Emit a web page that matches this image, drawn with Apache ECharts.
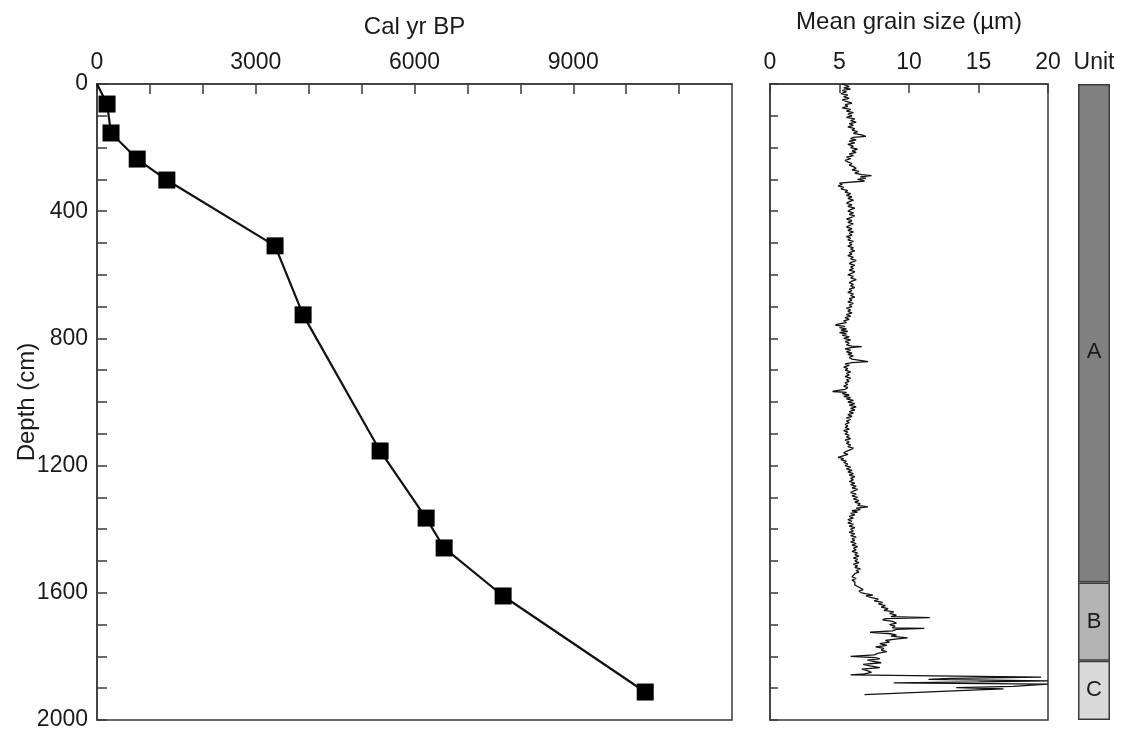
<!DOCTYPE html>
<html>
<head>
<meta charset="utf-8">
<title>Age-depth model and grain size</title>
<script src="https://cdn.jsdelivr.net/npm/echarts@6/dist/echarts.min.js"></script>
<style>
  html, body { margin: 0; padding: 0; background: #ffffff; }
  #chart { width: 1127px; height: 733px; }
</style>
</head>
<body>
<div id="chart"></div>
<script>
// Radiocarbon-dated levels: calibrated age (cal yr BP) and depth (cm)
const datedAges   = [190, 265, 760, 1320, 3365, 3895, 5350, 6220, 6560, 7675, 10360];
const datedDepths = [63, 154, 236, 302, 509, 726, 1154, 1365, 1459, 1610, 1912];

// Depth labels (cm) and age labels (cal yr BP)
const depthLabels = [0, 400, 800, 1200, 1600, 2000];
const ageLabels = [0, 3000, 6000, 9000];
const grainLabels = [0, 5, 10, 15, 20];

// Mean grain size profile: [depth (cm), mean grain size (µm)]
const grainProfile = [
  [0,5.2],[4,5.1],[8,5.7],[12,5.3],[16,5.8],[20,5.2],[25,5.5],[30,5.1],[35,5.6],[40,5.3],
  [45,5.7],[50,5.2],[55,5.5],[60,5.9],[65,5.4],[70,5.6],[75,5.2],[80,5.8],[85,5.5],[90,6.0],
  [95,5.6],[100,5.9],[105,5.5],[110,6.1],[115,5.8],[120,6.2],[125,5.7],[130,6.0],[135,5.6],[140,6.1],
  [145,5.9],[150,6.3],[155,6.0],[160,6.6],[165,6.9],[168,6.0],[172,5.8],[176,6.2],[180,5.7],[185,6.1],
  [190,5.6],[195,6.0],[200,5.8],[205,6.3],[210,5.9],[215,6.2],[220,5.7],[225,6.0],[230,5.5],[235,5.8],
  [240,5.4],[245,5.6],[250,5.9],[255,5.7],[260,6.0],[265,6.2],[270,5.9],[275,6.4],[280,6.1],[285,6.6],
  [288,7.3],[292,6.5],[296,6.9],[300,6.3],[305,6.8],[310,6.8],[312,5.0],[316,5.2],[320,4.9],[325,5.3],
  [330,5.1],[335,5.6],[340,5.4],[345,5.8],[350,5.5],[355,5.9],[360,5.6],[365,6.0],[370,5.7],[375,5.5],
  [380,5.9],[385,5.6],[390,6.1],[395,5.8],[400,5.6],[405,6.0],[410,5.7],[415,6.1],[420,5.8],[425,5.5],
  [430,5.9],[435,5.6],[440,6.0],[445,5.7],[450,5.5],[455,5.9],[460,5.6],[465,6.0],[470,5.7],[475,5.9],
  [480,5.5],[485,5.8],[490,5.6],[495,6.0],[500,5.7],[505,5.9],[510,5.6],[515,6.0],[520,5.8],[525,6.1],
  [530,5.7],[535,5.9],[540,5.6],[545,6.0],[550,5.8],[555,6.2],[560,5.9],[565,5.7],[570,6.1],[575,5.8],
  [580,6.0],[585,5.7],[590,6.1],[595,5.9],[600,5.6],[605,6.0],[610,5.8],[615,6.2],[620,5.9],[625,5.7],
  [630,6.0],[635,5.8],[640,6.1],[645,5.7],[650,5.9],[655,5.6],[660,6.0],[665,5.8],[670,6.1],[675,5.7],
  [680,5.9],[685,5.6],[690,6.0],[695,5.7],[700,5.9],[705,5.5],[710,5.8],[715,5.6],[720,5.9],[725,5.5],
  [730,5.8],[735,5.4],[740,5.7],[745,5.3],[750,5.5],[755,4.9],[758,4.7],[762,5.4],[766,5.0],[770,5.5],
  [774,5.1],[778,5.6],[782,5.0],[786,5.5],[790,5.2],[795,5.7],[800,5.3],[805,5.8],[810,5.4],[815,5.7],
  [820,5.5],[824,5.9],[826,6.6],[829,5.8],[833,5.4],[837,5.8],[842,5.5],[846,5.9],[850,5.6],[855,6.0],
  [860,5.7],[865,5.9],[869,5.8],[873,7.05],[876,5.9],[880,5.4],[885,5.7],[890,5.3],[895,5.6],[900,5.4],
  [905,5.8],[910,5.5],[915,5.7],[920,5.4],[925,5.8],[930,5.5],[935,5.7],[940,5.4],[945,5.6],[950,5.3],
  [955,5.6],[960,5.4],[964,4.8],[967,4.5],[970,5.5],[974,5.2],[978,5.7],[982,5.3],[986,5.8],[990,5.5],
  [995,6.0],[1000,5.6],[1005,6.1],[1010,5.7],[1015,6.2],[1020,5.8],[1025,6.1],[1030,5.7],[1035,6.0],[1040,5.6],
  [1045,5.9],[1050,5.5],[1055,5.8],[1060,5.5],[1065,5.7],[1070,5.4],[1075,5.6],[1080,5.4],[1085,5.7],[1090,5.3],
  [1095,5.6],[1100,5.4],[1105,5.7],[1110,5.5],[1115,5.8],[1120,5.4],[1125,5.7],[1130,5.5],[1135,5.8],[1140,5.6],
  [1145,6.0],[1150,5.8],[1155,5.5],[1160,5.3],[1165,5.6],[1170,5.2],[1174,4.9],[1178,5.3],[1182,5.1],[1186,5.5],
  [1190,5.3],[1195,5.6],[1200,5.4],[1205,5.8],[1210,5.5],[1215,5.9],[1220,5.6],[1225,6.0],[1230,5.7],[1235,6.1],
  [1240,5.8],[1245,6.0],[1250,5.7],[1255,6.1],[1260,5.8],[1265,6.2],[1270,5.9],[1275,6.3],[1280,6.0],[1285,5.8],
  [1290,6.2],[1295,5.9],[1300,6.3],[1305,6.0],[1310,6.4],[1315,6.1],[1320,6.5],[1325,6.3],[1330,7.05],[1334,6.2],
  [1338,6.5],[1342,5.9],[1346,6.3],[1350,5.8],[1355,6.1],[1360,5.7],[1365,6.0],[1370,5.6],[1375,5.9],[1380,5.6],
  [1385,6.0],[1390,5.7],[1395,6.1],[1400,5.8],[1405,6.0],[1410,5.7],[1415,6.1],[1420,5.8],[1425,6.2],[1430,5.9],
  [1435,6.1],[1440,5.8],[1445,6.2],[1450,5.9],[1455,6.3],[1460,6.0],[1465,6.2],[1470,5.9],[1475,6.3],[1480,6.1],
  [1485,6.4],[1490,6.0],[1495,6.3],[1500,6.1],[1505,6.4],[1510,6.0],[1515,6.3],[1520,6.1],[1525,6.5],[1530,6.2],
  [1535,6.4],[1540,6.1],[1545,6.0],[1550,5.9],[1555,6.2],[1560,5.9],[1565,6.1],[1570,6.0],[1575,6.1],[1580,6.3],
  [1585,6.5],[1590,6.7],[1595,6.4],[1600,6.6],[1604,6.5],[1607,7.4],[1610,6.9],[1615,7.3],[1620,7.8],[1625,7.5],
  [1630,8.1],[1635,7.8],[1640,8.3],[1645,8.0],[1650,8.5],[1655,8.2],[1660,8.9],[1665,8.6],[1670,9.1],[1675,8.7],
  [1678,11.5],[1681,8.3],[1685,8.1],[1690,8.8],[1695,9.1],[1700,8.6],[1705,9.0],[1710,8.8],[1712,11.1],[1715,9.1],
  [1720,8.8],[1724,7.2],[1728,8.5],[1732,9.1],[1736,8.7],[1742,9.9],[1746,9.0],[1750,8.3],[1755,8.6],[1760,7.9],
  [1765,8.4],[1770,7.6],[1775,8.2],[1780,8.0],[1785,8.4],[1790,7.8],[1795,7.5],[1800,5.8],[1804,7.6],[1808,7.9],
  [1812,7.0],[1816,7.5],[1820,8.0],[1825,6.7],[1830,7.2],[1835,7.9],[1840,6.6],[1845,7.0],[1850,7.3],[1855,6.8],
  [1858,5.8],[1865,19.5],[1869,13.0],[1872,11.4],[1877,20],[1880,15.0],[1883,8.9],[1887,20],[1890,20],[1894,17.5],
  [1898,13.4],[1902,16.8],[1906,14.5],[1920,6.8]
];

// Lithological units: name, top depth, base depth (cm)
const unitNames = ['A', 'B', 'C'];
const unitTops  = [0, 1568, 1814];
const unitBases = [1568, 1814, 2000];
const unitColors = ['#808080', '#b4b4b4', '#dadada'];

const FONT = '"Liberation Sans", Arial, sans-serif';
const AXIS_COLOR = '#3a3a3a';
const TXT = '#1a1a1a';
const TICK_FONT = 23;

const chart = echarts.init(document.getElementById('chart'), null, { renderer: 'canvas' });

const depthAxisBase = {
  type: 'value', inverse: true, min: 0, max: 2000, interval: 100,
  splitLine: { show: false },
  axisLine: { show: true, lineStyle: { color: AXIS_COLOR, width: 1.5 } },
  axisTick: { show: true, inside: true, length: 10, lineStyle: { color: AXIS_COLOR, width: 1.5 } }
};

const ageLine = [[0, 0]].concat(datedAges.map((a, i) => [a, datedDepths[i]]));

const gridBase = { outerBoundsMode: 'none', containLabel: false };

const option = {
  animation: false,
  backgroundColor: '#ffffff',
  textStyle: { fontFamily: FONT },
  grid: [
    Object.assign({ left: 97, top: 84, width: 635, height: 636, show: true, borderColor: AXIS_COLOR, borderWidth: 1.5 }, gridBase),
    Object.assign({ left: 770, top: 84, width: 278, height: 636, show: true, borderColor: AXIS_COLOR, borderWidth: 1.5 }, gridBase),
    Object.assign({ left: 1078, top: 84, width: 32, height: 636 }, gridBase)
  ],
  xAxis: [
    {
      gridIndex: 0, type: 'value', position: 'top', min: 0, max: 12000, interval: 1000,
      name: 'Cal yr BP', nameLocation: 'middle', nameGap: 45, nameMoveOverlap: false,
      nameTextStyle: { fontFamily: FONT, fontSize: 24, color: TXT },
      splitLine: { show: false },
      axisLine: { show: true, lineStyle: { color: AXIS_COLOR, width: 1.5 } },
      axisTick: { show: true, inside: true, length: 10, lineStyle: { color: AXIS_COLOR, width: 1.5 } },
      axisLabel: {
        show: true, margin: 10, fontFamily: FONT, fontSize: TICK_FONT, color: TXT,
        showMaxLabel: false,
        formatter: v => ageLabels.indexOf(v) >= 0 ? String(v) : ''
      }
    },
    {
      gridIndex: 1, type: 'value', position: 'top', min: 0, max: 20, interval: 5,
      name: 'Mean grain size (µm)', nameLocation: 'middle', nameGap: 50, nameMoveOverlap: false,
      nameTextStyle: { fontFamily: FONT, fontSize: 24, color: TXT },
      splitLine: { show: false },
      axisLine: { show: true, lineStyle: { color: AXIS_COLOR, width: 1.5 } },
      axisTick: { show: true, inside: true, length: 9, lineStyle: { color: AXIS_COLOR, width: 1.5 } },
      axisLabel: {
        show: true, margin: 10, fontFamily: FONT, fontSize: TICK_FONT, color: TXT,
        formatter: v => grainLabels.indexOf(v) >= 0 ? String(v) : ''
      }
    },
    {
      gridIndex: 2, type: 'category', position: 'top', data: ['Unit'],
      axisLine: { show: false }, axisTick: { show: false },
      axisLabel: { show: true, margin: 10, fontFamily: FONT, fontSize: TICK_FONT, color: TXT }
    }
  ],
  yAxis: [
    Object.assign({}, depthAxisBase, {
      gridIndex: 0,
      name: 'Depth (cm)', nameLocation: 'middle', nameGap: 58, nameMoveOverlap: false,
      nameTextStyle: { fontFamily: FONT, fontSize: 24, color: TXT },
      axisLabel: {
        show: true, margin: 9, fontFamily: FONT, fontSize: TICK_FONT, color: TXT,
        formatter: v => depthLabels.indexOf(v) >= 0 ? String(v) : ''
      }
    }),
    Object.assign({}, depthAxisBase, {
      gridIndex: 1,
      axisTick: { show: true, inside: true, length: 8, lineStyle: { color: AXIS_COLOR, width: 1.5 } },
      axisLabel: { show: false }
    }),
    { gridIndex: 2, type: 'value', inverse: true, min: 0, max: 2000, show: false }
  ],
  series: [
    {
      name: 'Age model', type: 'line', xAxisIndex: 0, yAxisIndex: 0,
      data: ageLine,
      showSymbol: false, symbol: 'none',
      lineStyle: { color: '#111', width: 2.2 },
      z: 2
    },
    {
      name: 'Dated levels', type: 'scatter', xAxisIndex: 0, yAxisIndex: 0,
      data: datedAges.map((a, i) => [a, datedDepths[i]]),
      symbol: 'rect', symbolSize: 17,
      itemStyle: { color: '#000', opacity: 1 },
      z: 3
    },
    {
      name: 'Mean grain size', type: 'line', xAxisIndex: 1, yAxisIndex: 1,
      data: grainProfile.map(p => [p[1], p[0]]),
      showSymbol: false, symbol: 'none', clip: true,
      lineStyle: { color: '#111', width: 1.3 }
    }
  ].concat(unitNames.map((u, i) => ({
    name: 'Unit ' + u, type: 'bar', xAxisIndex: 2, yAxisIndex: 2,
    stack: 'units', barWidth: '100%',
    data: [unitBases[i] - unitTops[i]],
    itemStyle: { color: unitColors[i], borderColor: '#3a3a3a', borderWidth: 1.5 },
    label: {
      show: true, position: 'inside', formatter: u,
      fontFamily: FONT, fontSize: 22, color: TXT,
      offset: i === 0 ? [0, 19] : [0, 0]
    }
  })))
};

chart.setOption(option);
</script>
</body>
</html>
